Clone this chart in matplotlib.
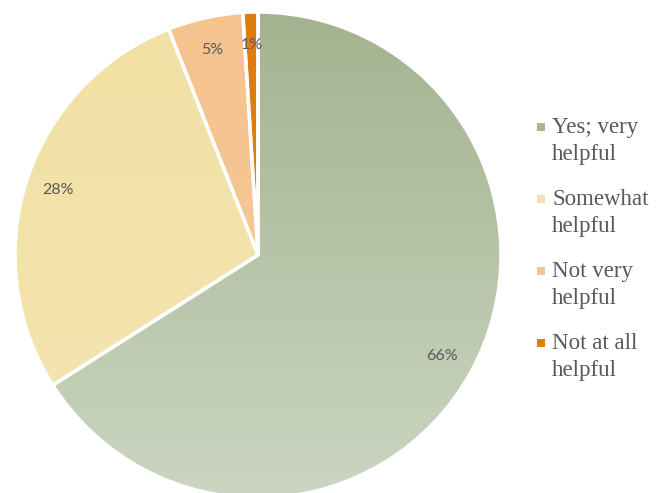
import numpy as np
import matplotlib
matplotlib.use('Agg')
import matplotlib.pyplot as plt
from matplotlib.colors import LinearSegmentedColormap
from matplotlib.patches import Rectangle, Wedge

labels = ['Yes; very\nhelpful', 'Somewhat\nhelpful', 'Not very\nhelpful', 'Not at all\nhelpful']
values = [66, 28, 5, 1]
top_colors = ['#a3b38f', '#f2e0a4', '#f5c38e', '#df7c0e']
bottom_colors = ['#cbd5c1', '#f4e5b0', '#f7ca9a', '#e1801a']
legend_colors = ['#a7b795', '#f3e2a9', '#f6c592', '#e07d10']

W, H = 665, 493
cx, cy, R = 258, H - 255, 243

fig = plt.figure(figsize=(W / 100, H / 100), dpi=100)
ax = fig.add_axes([0, 0, 1, 1])

wedges, texts, autotexts = ax.pie(
    values, center=(cx, cy), radius=R, startangle=90, counterclock=False,
    colors=legend_colors, autopct='%d%%', pctdistance=0.865, frame=True,
    wedgeprops=dict(edgecolor='white', linewidth=2.5),
    textprops=dict(color='#595959', fontsize=11.5, family=['Lato', 'DejaVu Sans']))

# vertical gradient in each slice
for w, c1, c2 in zip(wedges, top_colors, bottom_colors):
    cmap = LinearSegmentedColormap.from_list('g', [c2, c1])
    grad = np.linspace(0, 1, 256).reshape(-1, 1)
    im = ax.imshow(grad, cmap=cmap, extent=(cx - R, cx + R, cy - R, cy + R),
                   origin='lower', aspect='auto', zorder=w.get_zorder() + 0.1)
    im.set_clip_path(w)
    ax.add_patch(Wedge(w.center, w.r, w.theta1, w.theta2, facecolor='none',
                       edgecolor='white', linewidth=2.5, zorder=w.get_zorder() + 0.2))
for t in autotexts:
    t.set_zorder(10)

ax.set_xlim(0, W)
ax.set_ylim(0, H)
ax.set_aspect('equal')
ax.axis('off')

# legend
ys = [127, 199, 271, 343]
for lab, col, y in zip(labels, legend_colors, ys):
    ax.add_patch(Rectangle((537, H - y - 4), 8, 8, facecolor=col, edgecolor='none'))
    ax.text(552, H - y + 10, lab, ha='left', va='top', fontsize=16.5,
            color='#595959', family='Liberation Serif', linespacing=1.4)

fig.savefig('out.png', dpi=100)
